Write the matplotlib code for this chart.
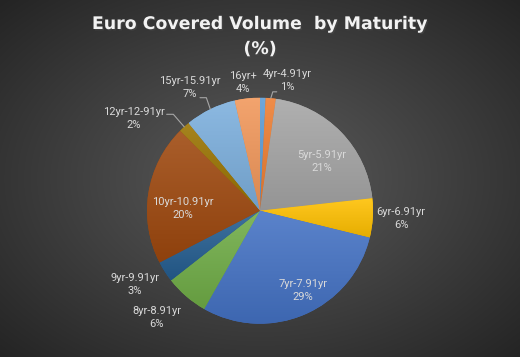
import numpy as np
import matplotlib
matplotlib.use('Agg')
import matplotlib.pyplot as plt
import matplotlib.patheffects as pe
from matplotlib.colors import to_rgb

# slice values (%), clockwise from 12 o'clock
names = ['', '4yr-4.91yr', '5yr-5.91yr', '6yr-6.91yr', '7yr-7.91yr', '8yr-8.91yr',
         '9yr-9.91yr', '10yr-10.91yr', '12yr-12-91yr', '15yr-15.91yr', '16yr+']
values = [0.8, 1.45, 21.0, 5.6, 29.4, 6.2, 3.0, 20.1, 1.6, 7.3, 3.6]
colors = ['#5B9BD5', '#ED7D31', '#A5A5A5', '#FFC000', '#4472C4', '#70AD47',
          '#255E91', '#9E480E', '#997300', '#7CAFDD', '#F1975A']

# label centres in pie data units (radius = 1)
label_xy = [None, (0.239, 1.152), (0.549, 0.435), (1.248, -0.069), (0.381, -0.706),
            (-0.912, -0.945), (-1.106, -0.653), (-0.681, 0.019), (-1.115, 0.816),
            (-0.619, 1.090), (-0.150, 1.135)]
# leader lines: start point and angle of the segment meeting the wedge
leaders = {1: ((0.148, 1.052), 73), 9: ((-0.531, 1.0), 109), 8: ((-0.826, 0.853), 131)}

W, H = 520, 357
fig = plt.figure(figsize=(W / 100, H / 100), dpi=100)

# dark radial background
bg = fig.add_axes([0, 0, 1, 1])
yy, xx = np.mgrid[0:H, 0:W]
d = np.sqrt(((xx - W / 2) / (W / 2)) ** 2 + ((yy - H / 2) / (H / 2)) ** 2) / np.sqrt(2)
lvl = (92 - 56 * np.clip(d, 0, 1)) / 255
bg.imshow(np.dstack([lvl, lvl, lvl]), extent=[0, 1, 0, 1], aspect='auto')
bg.axis('off')

cx, cy, R = 260, 210.7, 113
ax = fig.add_axes([(cx - R) / W, (H - cy - R) / H, 2 * R / W, 2 * R / H])
ax.patch.set_visible(False)
wedges, _ = ax.pie(values, colors=colors, startangle=90, counterclock=False,
                   wedgeprops=dict(linewidth=0))

# subtle vertical gradient on each slice
for w, c in zip(wedges, colors):
    base = np.array(to_rgb(c))
    t = np.linspace(0, 1, 64)[:, None]
    top = base + (1 - base) * 0.12
    bot = base * 0.9
    img = (top * (1 - t) + bot * t)[:, None, :].repeat(2, axis=1)
    b = w.get_path().get_extents()
    im = ax.imshow(img, extent=[b.x0, b.x1, b.y0, b.y1], aspect='auto', zorder=2)
    im.set_clip_path(w)

ax.set_xlim(-1, 1)
ax.set_ylim(-1, 1)
ax.axis('off')

txt_color = '#D9D9D9'
for i, (name, v) in enumerate(zip(names, values)):
    if not name:
        continue
    x, y = label_xy[i]
    ax.text(x, y, f'{name}\n{round(v)}%', ha='center', va='center', fontsize=8,
            family='Roboto', color=txt_color, linespacing=1.4, zorder=5)
    if i in leaders:
        w = wedges[i]
        mid = np.deg2rad((w.theta1 + w.theta2) / 2)
        start, angB = leaders[i]
        ax.annotate('', xy=(np.cos(mid), np.sin(mid)), xytext=start,
                    arrowprops=dict(arrowstyle='-', color='#A6A6A6', lw=0.8,
                                    shrinkA=0, shrinkB=0,
                                    connectionstyle=f'angle,angleA=0,angleB={angB},rad=0'),
                    zorder=5)

title_fx = [pe.withSimplePatchShadow(offset=(1, -1), alpha=0.6)]
fig.text(0.5, 1 - 24 / H, 'Euro Covered Volume  by Maturity', ha='center', va='center',
         fontsize=12.5, fontweight='bold', color='#F2F2F2', path_effects=title_fx)
fig.text(0.5, 1 - 49 / H, '(%)', ha='center', va='center',
         fontsize=12.5, fontweight='bold', color='#F2F2F2', path_effects=title_fx)

fig.savefig('out.png', dpi=100)
